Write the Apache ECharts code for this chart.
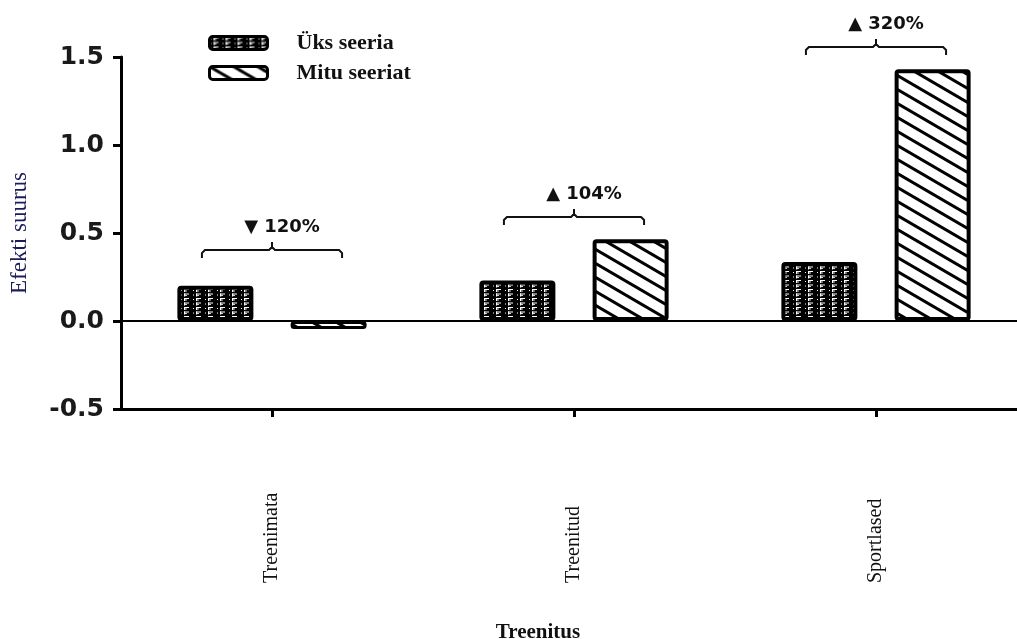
<!DOCTYPE html>
<html>
<head>
<meta charset="utf-8">
<script src="https://cdn.jsdelivr.net/npm/echarts@6/dist/echarts.min.js"></script>
<style>
html,body{margin:0;padding:0;background:#fff;}
#chart{width:1017px;height:639px;}
</style>
</head>
<body>
<div id="chart"></div>
<script>
// ---- data ----
const categories = ['Treenimata', 'Treenitud', 'Sportlased'];
const seriesNames = ['Üks seeria', 'Mitu seeriat'];
const uksValues = [0.20, 0.23, 0.335];
const mituValues = [-0.045, 0.465, 1.43];
const yTickLabels = ['-0.5', '0.0', '0.5', '1.0', '1.5'];
const annoLabels = ['▼ 120%', '▲ 104%', '▲ 320%'];
const annoLevels = [0.403, 0.591, 1.557];

// ---- patterns ----
function makeDensePattern() {
  const c = document.createElement('canvas');
  c.width = 12; c.height = 9;
  const g = c.getContext('2d');
  g.fillStyle = '#000'; g.fillRect(0, 0, 12, 9);
  g.fillStyle = '#fff';
  [0, 4.5].forEach(r => {
    g.fillRect(4, r + 1, 5, 1);
    g.fillRect(4, r + 1, 1.2, 3);
    g.fillRect(4, r + 2.6, 3, 0.8);
    g.fillRect(1, r + 2, 1, 1);
  });
  return c;
}
function makeStripePattern() {
  const W = 24, H = 14;
  const c = document.createElement('canvas');
  c.width = W; c.height = H;
  const g = c.getContext('2d');
  g.fillStyle = '#fff'; g.fillRect(0, 0, W, H);
  g.strokeStyle = '#000'; g.lineWidth = 3;
  [[-W, -H, 2 * W, 2 * H], [0, -H, 2 * W, H], [-W, 0, W, 2 * H]].forEach(l => {
    g.beginPath(); g.moveTo(l[0], l[1]); g.lineTo(l[2], l[3]); g.stroke();
  });
  return c;
}
const densePattern = { image: makeDensePattern(), repeat: 'repeat' };
const stripePattern = { image: makeStripePattern(), repeat: 'repeat' };

const chart = echarts.init(document.getElementById('chart'), null, { renderer: 'canvas' });

const option = {
  backgroundColor: '#fff',
  animation: false,
  grid: { left: 121, top: 57, width: 906, height: 352, containLabel: false, outerBoundsMode: 'none' },
  legend: {
    data: seriesNames,
    orient: 'vertical',
    left: 203,
    top: 27,
    itemWidth: 58,
    itemHeight: 13,
    itemGap: 8,
    itemStyle: { borderWidth: 3, borderColor: '#000' },
    textStyle: {
      fontFamily: 'Liberation Serif',
      fontWeight: 'bold',
      fontSize: 22,
      color: '#111',
      padding: [0, 0, 0, 24]
    }
  },
  xAxis: {
    type: 'category',
    data: categories,
    name: 'Treenitus',
    nameLocation: 'middle',
    nameGap: 213,
    nameTextStyle: {
      fontFamily: 'Liberation Serif',
      fontWeight: 'bold',
      fontSize: 21,
      color: '#111',
      padding: [0, 72, 0, 0]
    },
    axisLine: { show: true, onZero: false, lineStyle: { color: '#000', width: 3 } },
    axisTick: { show: true, alignWithLabel: true, length: 8, lineStyle: { color: '#000', width: 3 } },
    axisLabel: {
      rotate: 90,
      align: 'left',
      verticalAlign: 'middle',
      margin: 174,
      fontFamily: 'Liberation Serif',
      fontSize: 20,
      color: '#111'
    },
    splitLine: { show: false }
  },
  yAxis: {
    type: 'value',
    min: -0.5,
    max: 1.5,
    interval: 0.5,
    name: 'Efekti suurus',
    nameLocation: 'middle',
    nameGap: 90,
    nameRotate: 90,
    nameTextStyle: {
      fontFamily: 'Liberation Serif',
      fontSize: 23,
      color: '#1b1b5a'
    },
    axisLine: { show: true, lineStyle: { color: '#000', width: 3 } },
    axisTick: { show: true, length: 8, lineStyle: { color: '#000', width: 3 } },
    axisLabel: {
      margin: 17,
      fontFamily: 'DejaVu Sans',
      fontWeight: 'bold',
      fontSize: 25,
      color: '#1a1a1a',
      formatter: v => yTickLabels[Math.round((v + 0.5) / 0.5)]
    },
    splitLine: { show: false }
  },
  series: [
    {
      name: seriesNames[0],
      type: 'bar',
      data: uksValues,
      barWidth: 76,
      barGap: '49%',
      itemStyle: { color: densePattern, borderColor: '#000', borderWidth: 4, borderRadius: 2 },
      markLine: {
        silent: true,
        symbol: 'none',
        label: { show: false },
        lineStyle: { color: '#000', width: 2, type: 'solid' },
        data: [{ yAxis: 0 }]
      }
    },
    {
      name: seriesNames[1],
      type: 'bar',
      data: mituValues.map(v => (v < 0 ? { value: v, itemStyle: { borderWidth: 3 } } : v)),
      barWidth: 76,
      itemStyle: { color: stripePattern, borderColor: '#000', borderWidth: 4, borderRadius: 2 }
    },
    {
      type: 'custom',
      silent: true,
      z: 10,
      data: annoLevels.map((v, i) => [i, v]),
      encode: { x: 0, y: 1 },
      renderItem: function (params, api) {
        const p = api.coord([api.value(0), api.value(1)]);
        const hw = api.size([1, 0])[0] * 0.232;
        const cx = p[0], cy = p[1];
        const x0 = cx - hw, x1 = cx + hw;
        return {
          type: 'group',
          children: [
            {
              type: 'polyline',
              shape: {
                points: [[x0, cy + 8], [x0, cy + 3], [x0 + 3, cy], [cx - 3, cy], [cx, cy - 3], [cx, cy - 8],
                         [cx, cy - 3], [cx + 3, cy], [x1 - 3, cy], [x1, cy + 3], [x1, cy + 8]]
              },
              style: { fill: null, stroke: '#111', lineWidth: 2 }
            },
            {
              type: 'text',
              x: cx + 10,
              y: cy - 23,
              style: {
                text: annoLabels[params.dataIndex],
                font: 'bold 18px "DejaVu Sans", sans-serif',
                fill: '#111',
                textAlign: 'center',
                textVerticalAlign: 'middle'
              }
            }
          ]
        };
      }
    }
  ]
};
chart.setOption(option);
</script>
</body>
</html>
